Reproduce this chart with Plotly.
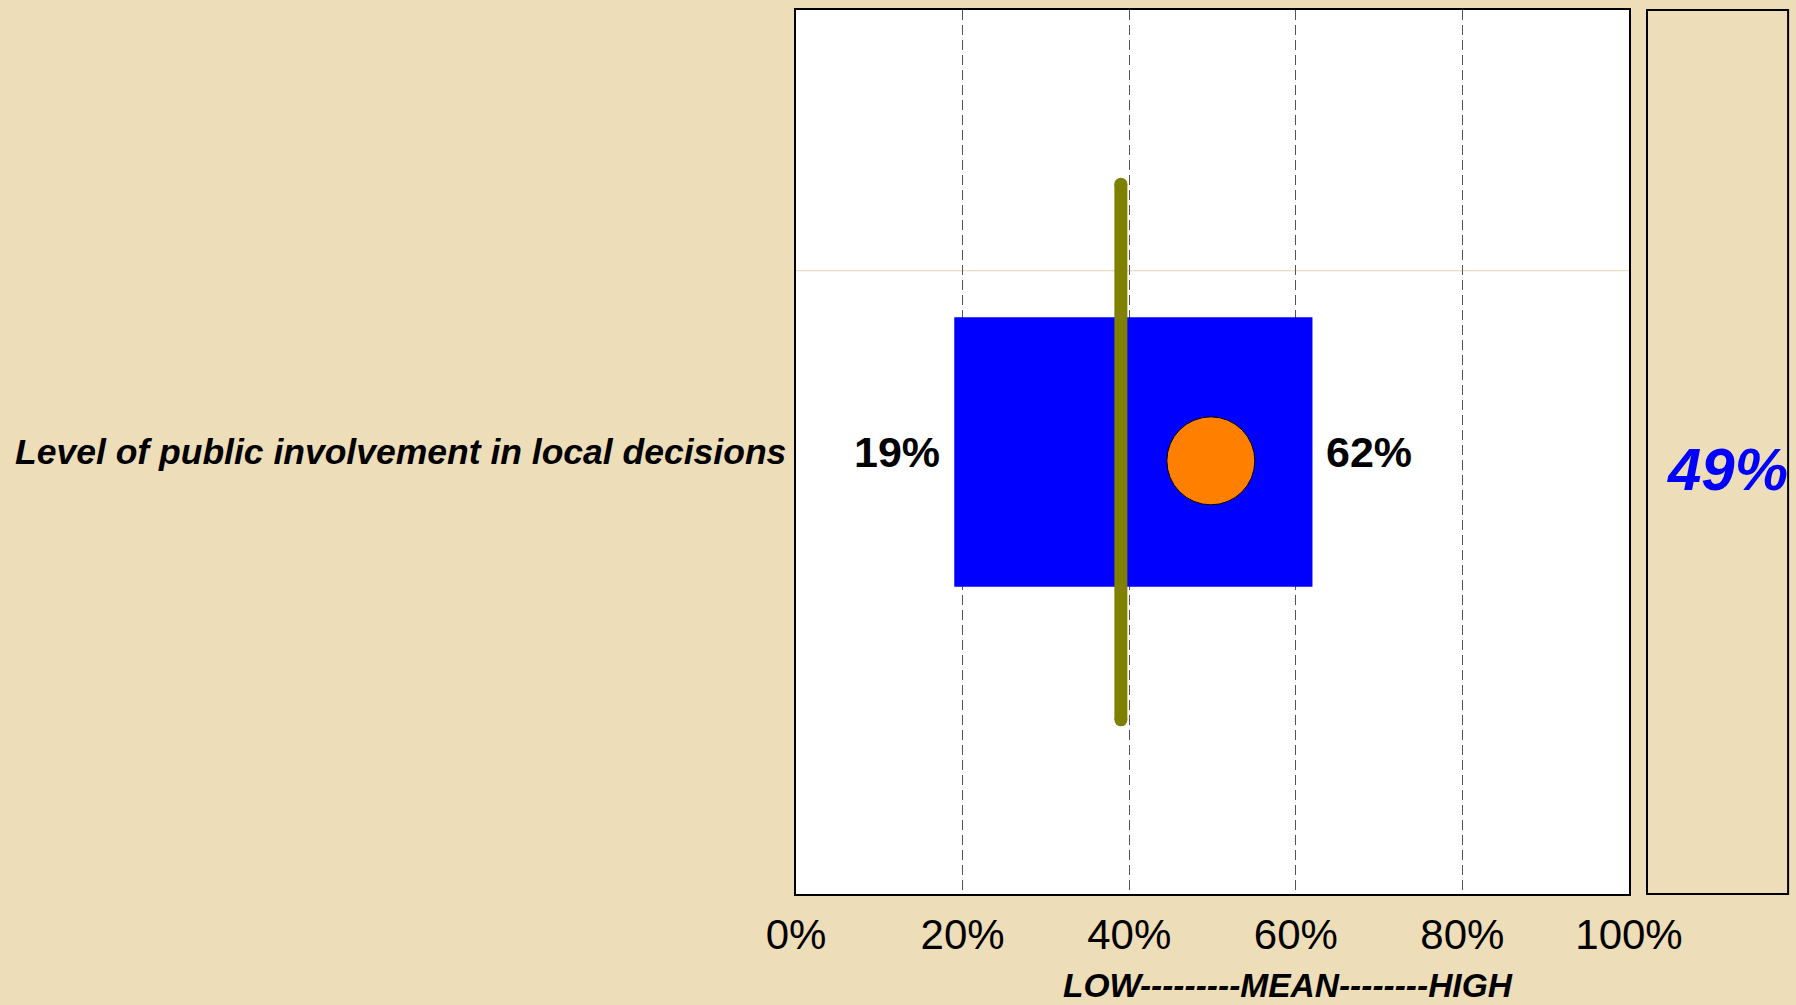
import plotly.graph_objects as go

PAPER_BG = "#EDDDB8"
TEXT = "#000000"
FONT = "Arial, Liberation Sans, sans-serif"

# data
item = ["Level of public involvement in local decisions"]
low = [19]
high = [62]
mean = [49.8]
benchmark = [39]
x_ticks = [0, 20, 40, 60, 80, 100]
x_labels = ["0%", "20%", "40%", "60%", "80%", "100%"]
axis_title = "LOW---------MEAN--------HIGH"

BAR_W = 0.305
LINE_HALF = 0.303
SEP_Y = 0.205

fig = go.Figure()

# range bar low -> high
fig.add_trace(go.Bar(
    y=[0], x=[high[0] - low[0]], base=low, orientation="h", width=BAR_W,
    marker=dict(color="#0000FF", line=dict(width=0)),
    hoverinfo="skip", showlegend=False,
))

# benchmark line (round ends via markers)
fig.add_trace(go.Scatter(
    x=[benchmark[0], benchmark[0]], y=[-LINE_HALF, LINE_HALF], mode="lines+markers",
    line=dict(color="#808000", width=13),
    marker=dict(color="#808000", size=13, line=dict(width=0)),
    hoverinfo="skip", showlegend=False,
))

# mean marker
fig.add_trace(go.Scatter(
    x=mean, y=[-0.01], mode="markers",
    marker=dict(color="#FF7F00", size=88, line=dict(color="#000000", width=1)),
    hoverinfo="skip", showlegend=False,
))

# low / high labels
fig.add_annotation(
    x=low[0], y=0, xref="x", yref="y", text=f"<b>{low[0]}%</b>", showarrow=False,
    xanchor="right", yanchor="middle", xshift=-12,
    font=dict(size=43, color=TEXT, family=FONT),
)
fig.add_annotation(
    x=high[0], y=0, xref="x", yref="y", text=f"<b>{high[0]}%</b>", showarrow=False,
    xanchor="left", yanchor="middle", xshift=12,
    font=dict(size=43, color=TEXT, family=FONT),
)

# faint separator line
fig.add_shape(type="line", xref="paper", yref="y", x0=0, x1=1, y0=SEP_Y, y1=SEP_Y,
              line=dict(color="#E3D3B3", width=1), layer="below")

# side box with mean value
fig.add_shape(type="rect", xref="paper", yref="paper", x0=1.0216, x1=1.191, y0=0, y1=1,
              line=dict(color="#000000", width=2), fillcolor="rgba(0,0,0,0)")
fig.add_annotation(
    xref="paper", yref="paper", x=1.118, y=0.48, text=f"<i><b>{int(mean[0])}%</b></i>",
    showarrow=False, font=dict(size=60, color="#0000FF", family=FONT),
    xanchor="center", yanchor="middle",
)

# row label
fig.add_annotation(
    xref="paper", yref="y", x=0, y=0, xshift=-8, text=f"<i><b>{item[0]}</b></i>",
    showarrow=False, font=dict(size=35.5, color=TEXT, family=FONT),
    xanchor="right", yanchor="middle",
)

# axis title
fig.add_annotation(
    xref="paper", yref="paper", x=0.5906, y=-0.104, text=f"<i><b>{axis_title}</b></i>",
    showarrow=False, font=dict(size=33.5, color=TEXT, family=FONT),
    xanchor="center", yanchor="middle",
)

fig.update_layout(
    width=1796,
    height=1005,
    margin=dict(l=796, r=167, t=8, b=111),
    paper_bgcolor=PAPER_BG,
    plot_bgcolor="#FFFFFF",
    font=dict(color=TEXT, family=FONT),
    showlegend=False,
    xaxis=dict(
        range=[0, 100], tickvals=x_ticks, ticktext=x_labels,
        showgrid=True, gridcolor="#555555", gridwidth=1, griddash="10px,5px",
        zeroline=False, showline=True, linecolor="#000000", linewidth=2, mirror=True,
        ticks="outside", ticklen=3, tickcolor="rgba(0,0,0,0)",
        tickfont=dict(size=42, color=TEXT, family=FONT),
    ),
    yaxis=dict(
        range=[-0.5, 0.5], showgrid=False, zeroline=False, showticklabels=False,
        showline=True, linecolor="#000000", linewidth=2, mirror=True,
    ),
)

fig.write_html("out.html", post_script="document.body.style.margin='0';", config={"displayModeBar": False})
